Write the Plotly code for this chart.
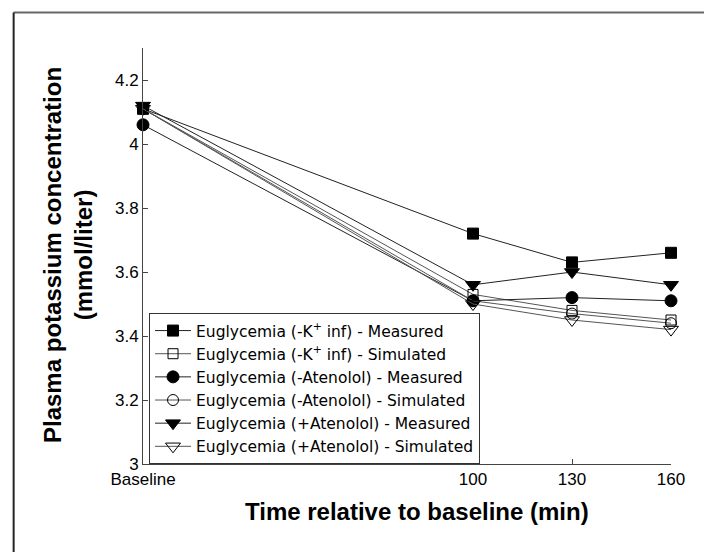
import plotly.graph_objects as go

times = [0, 100, 130, 160]
tick_labels = ["Baseline", "100", "130", "160"]

names = [
    "Euglycemia (-K<sup>+</sup> inf) - Measured",
    "Euglycemia (-K<sup>+</sup> inf) - Simulated",
    "Euglycemia (-Atenolol) - Measured",
    "Euglycemia (-Atenolol) - Simulated",
    "Euglycemia (+Atenolol) - Measured",
    "Euglycemia (+Atenolol) - Simulated",
]
k_measured = [4.11, 3.72, 3.63, 3.66]
k_simulated = [4.11, 3.53, 3.48, 3.45]
aten_minus_measured = [4.06, 3.51, 3.52, 3.51]
aten_minus_simulated = [4.11, 3.51, 3.47, 3.44]
aten_plus_measured = [4.12, 3.56, 3.60, 3.56]
aten_plus_simulated = [4.11, 3.50, 3.45, 3.42]

y_ticks = [3, 3.2, 3.4, 3.6, 3.8, 4.0, 4.2]
y_tick_text = ["3", "3.2", "3.4", "3.6", "3.8", "4", "4.2"]

series = [k_measured, k_simulated, aten_minus_measured,
          aten_minus_simulated, aten_plus_measured, aten_plus_simulated]
symbols = ["square", "square-open", "circle", "circle-open",
           "triangle-down", "triangle-down-open"]
sizes = [11, 10, 12, 11, 13, 13]
line_colors = ["#222", "#555", "#222", "#555", "#222", "#555"]

fig = go.Figure()
for nm, ys, sym, sz, lc in zip(names, series, symbols, sizes, line_colors):
    fig.add_trace(go.Scatter(
        x=times, y=ys, name=nm, mode="lines+markers", cliponaxis=False,
        line=dict(color=lc, width=1),
        marker=dict(symbol=sym, size=sz, color="black",
                    line=dict(color="black" if "open" not in sym else "#444", width=1)),
    ))

font = "Liberation Sans, Arial, sans-serif"
fig.update_layout(
    width=712, height=552,
    margin=dict(l=135, r=49, t=40, b=96, autoexpand=False),
    paper_bgcolor="white", plot_bgcolor="white",
    font=dict(family=font, size=17, color="black"),
    showlegend=True,
    legend=dict(
        x=0.0114, y=0.363, xanchor="left", yanchor="top",
        bordercolor="#333", borderwidth=1, bgcolor="white",
        font=dict(size=15.5, family="DejaVu Sans, Liberation Sans, sans-serif"),
        tracegroupgap=0, itemwidth=36,
    ),
    xaxis=dict(
        range=[0, 160], tickvals=times, ticktext=tick_labels,
        showline=True, linecolor="#444", linewidth=1,
        ticks="inside", ticklen=5, tickcolor="#444",
        showgrid=False, zeroline=False, automargin=False,
        tickfont=dict(size=17),
    ),
    yaxis=dict(
        range=[3, 4.3], tickvals=y_ticks, ticktext=y_tick_text,
        showline=True, linecolor="#444", linewidth=1,
        ticks="inside", ticklen=5, tickcolor="#444",
        showgrid=False, zeroline=False, automargin=False,
        tickfont=dict(size=17),
    ),
)

# axis titles
fig.add_annotation(text="<b>Time relative to baseline (min)</b>",
                   xref="paper", yref="paper", x=(417 - 143) / 528, y=(464 - 511) / 416,
                   xanchor="center", yanchor="middle", showarrow=False,
                   font=dict(size=24, family=font))
fig.add_annotation(text="<b>Plasma potassium concentration<br>(mmol/liter)</b>",
                   xref="paper", yref="paper", x=(68 - 143) / 528, y=(464 - 255) / 416,
                   xanchor="center", yanchor="middle", showarrow=False, textangle=-90,
                   font=dict(size=24, family=font))

# outer frame of the figure
fig.add_shape(type="line", xref="paper", yref="paper",
              x0=-0.245, x1=1.072, y0=1.0853, y1=1.0853,
              line=dict(color="#666", width=2))
fig.add_shape(type="line", xref="paper", yref="paper",
              x0=-0.245, x1=-0.245, y0=1.0853, y1=-0.25,
              line=dict(color="#222", width=2))
fig.add_shape(type="line", xref="paper", yref="paper",
              x0=1.072, x1=1.072, y0=1.0853, y1=-0.25,
              line=dict(color="#222", width=2))

fig.write_html("out.html")
